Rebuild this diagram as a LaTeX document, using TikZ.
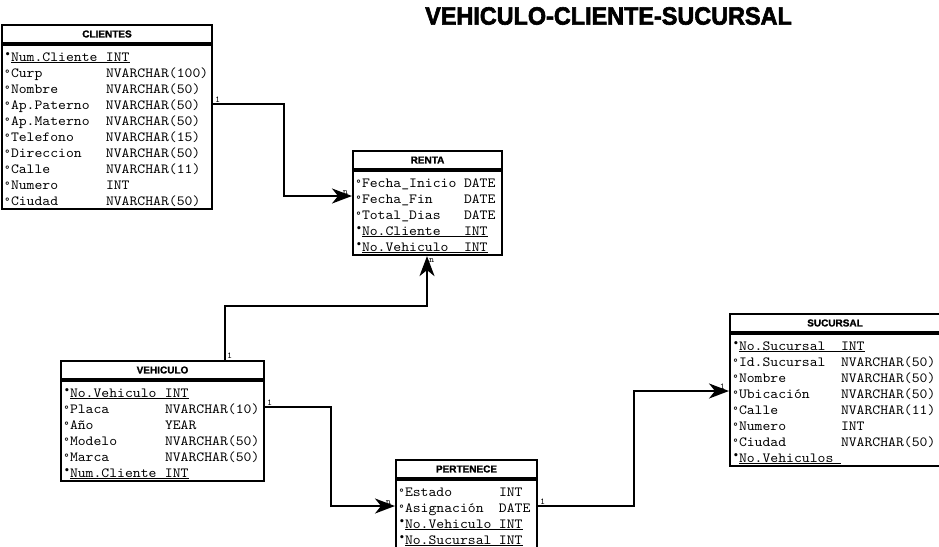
\documentclass[tikz,border=0pt]{standalone}
\usepackage{fontspec}
\usepackage{graphicx}
\setmainfont{Liberation Sans}
\setmonofont[FakeStretch=1.07]{lmmono10-regular.otf}
\newfontfamily\titfont[BoldFeatures={FakeBold=2.5}]{Liberation Sans}
\newfontfamily\cabfont[BoldFeatures={FakeBold=1.2}]{Liberation Sans}
\newfontfamily\marcafont{DejaVu Sans}
\usetikzlibrary{arrows.meta,positioning}

\newcommand{\rs}{\rule[-2pt]{0pt}{16pt}}
\newcommand{\attmark}{\makebox[6pt][l]{\marcafont\bfseries\fontsize{10}{10}\selectfont °}}
\newcommand{\keymark}{\makebox[6pt][l]{\raisebox{3.5pt}{\marcafont\bfseries\fontsize{9}{9}\selectfont •}}}
\newcommand{\campo}[3]{\rs\attmark\makebox[#1][l]{#2}#3}
\newcommand{\llave}[3]{\rs\keymark\underline{\makebox[#1][l]{#2}#3}}
\newcommand{\cuerpofont}{\ttfamily\fontsize{14}{16}\selectfont\lineskiplimit=-10pt\relax\parindent=0pt\relax}

\tikzset{
	cabecera/.style={draw, line width=2pt, minimum height=18pt, inner sep=0pt, anchor=north west, font=\cabfont\fontsize{10}{12}\selectfont\bfseries},
	cuerpo/.style={draw, line width=2pt, anchor=north west, inner xsep=3pt, inner ysep=2pt, align=left, font=\cuerpofont},
	rel/.style={line width=2pt, -{Stealth[length=20pt,width=15pt,inset=6pt]}},
	card/.style={font=\ttfamily\fontsize{9}{9}\selectfont, inner sep=1pt}
}

\begin{document}
\begin{tikzpicture}[x=1pt,y=-1pt]
	\useasboundingbox[fill=white] (0,0) rectangle (939,546);
	\node[font=\titfont\fontsize{25}{25}\selectfont\bfseries] (tit) at (608.5,16) {\scalebox{0.936}[1]{VEHICULO-CLIENTE-SUCURSAL}};
	% CLIENTES
	\node[cabecera, minimum width=210pt] (cli) at (1,24) {CLIENTES};
	\node[cuerpo, text width=204pt] (clib) at (cli.south west) {%
		\llave{95pt}{Num.Cliente}{INT}\\
		\campo{95pt}{Curp}{NVARCHAR(100)}\\
		\campo{95pt}{Nombre}{NVARCHAR(50)}\\
		\campo{95pt}{Ap.Paterno}{NVARCHAR(50)}\\
		\campo{95pt}{Ap.Materno}{NVARCHAR(50)}\\
		\campo{95pt}{Telefono}{NVARCHAR(15)}\\
		\campo{95pt}{Direccion}{NVARCHAR(50)}\\
		\campo{95pt}{Calle}{NVARCHAR(11)}\\
		\campo{95pt}{Numero}{INT}\\
		\campo{95pt}{Ciudad}{NVARCHAR(50)}};
	% RENTA
	\node[cabecera, minimum width=149pt] (ren) at (352,150) {RENTA};
	\node[cuerpo, text width=143pt] (renb) at (ren.south west) {%
		\campo{102pt}{Fecha\_Inicio}{DATE}\\
		\campo{102pt}{Fecha\_Fin}{DATE}\\
		\campo{102pt}{Total\_Dias}{DATE}\\
		\llave{102pt}{No.Cliente}{INT}\\
		\llave{102pt}{No.Vehiculo}{INT}};
	% VEHICULO
	\node[cabecera, minimum width=203pt] (veh) at (60,360) {VEHICULO};
	\node[cuerpo, text width=197pt] (vehb) at (veh.south west) {%
		\llave{95pt}{No.Vehiculo}{INT}\\
		\campo{95pt}{Placa}{NVARCHAR(10)}\\
		\campo{95pt}{Año}{YEAR}\\
		\campo{95pt}{Modelo}{NVARCHAR(50)}\\
		\campo{95pt}{Marca}{NVARCHAR(50)}\\
		\llave{95pt}{Num.Cliente}{INT}};
	% PERTENECE
	\node[cabecera, minimum width=141pt] (per) at (395,459) {PERTENECE};
	\node[cuerpo, text width=135pt] (perb) at (per.south west) {%
		\campo{94pt}{Estado}{INT}\\
		\campo{94pt}{Asignación}{DATE}\\
		\llave{94pt}{No.Vehiculo}{INT}\\
		\llave{94pt}{No.Sucursal}{INT}};
	% SUCURSAL
	\node[cabecera, minimum width=210pt] (suc) at (729,313) {SUCURSAL};
	\node[cuerpo, text width=204pt] (sucb) at (suc.south west) {%
		\llave{102pt}{No.Sucursal}{INT}\\
		\campo{102pt}{Id.Sucursal}{NVARCHAR(50)}\\
		\campo{102pt}{Nombre}{NVARCHAR(50)}\\
		\campo{102pt}{Ubicación}{NVARCHAR(50)}\\
		\campo{102pt}{Calle}{NVARCHAR(11)}\\
		\campo{102pt}{Numero}{INT}\\
		\campo{102pt}{Ciudad}{NVARCHAR(50)}\\
		\llave{102pt}{No.Vehiculos}{}};
	% relaciones
	\draw[rel] ([yshift=-60pt]clib.north east) -- node[card, pos=0, above right] (c1) {1} ++(71,0)
		|- ([yshift=-26pt]renb.north west) node[card, above left, xshift=-2pt] (c2) {n};
	\draw[rel] ([xshift=165pt]veh.north west) -- node[card, pos=0, above right] (c3) {1} ++(0,-54)
		-| ([xshift=75pt]renb.south west) node[card, below right] (c4) {n};
	\draw[rel] ([yshift=-27pt]vehb.north east) -- node[card, pos=0, above right] (c5) {1} ++(66,0)
		|- ([yshift=-27pt]perb.north west) node[card, above left, xshift=-2pt] (c6) {n};
	\draw[rel] ([yshift=-27pt]perb.north east) -- node[card, pos=0, above right] (c7) {1} ++(96,0)
		|- ([yshift=-58pt]sucb.north west) node[card, above left, xshift=-2pt] (c8) {1};
\end{tikzpicture}
\end{document}
